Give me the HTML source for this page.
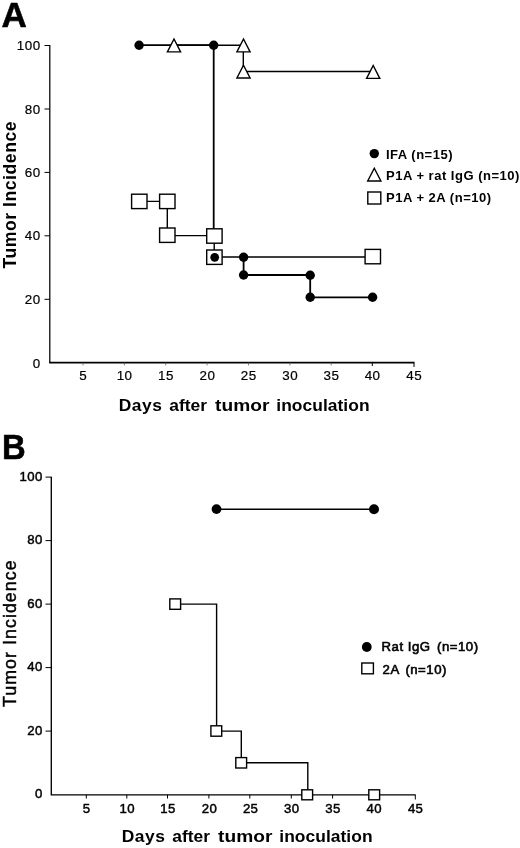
<!DOCTYPE html>
<html>
<head>
<meta charset="utf-8">
<title>Tumor Incidence</title>
<style>
html,body{margin:0;padding:0;background:#fff;}
body{width:520px;height:848px;overflow:hidden;}
svg{display:block;}
text{font-family:"Liberation Sans",Arial,Helvetica,sans-serif;fill:#000;}
.panel{font-size:35px;font-weight:bold;stroke:#000;stroke-width:0.6px;}
.tickA{font-size:13.4px;letter-spacing:0.5px;stroke:#000;stroke-width:0.2px;}
.tickB{font-size:13.2px;letter-spacing:0.35px;stroke:#000;stroke-width:0.45px;}
.ytitle{font-size:17.6px;font-weight:bold;letter-spacing:0.55px;}
.xtitle{font-size:17.4px;font-weight:bold;letter-spacing:0.53px;}
.leg{font-size:13px;font-weight:bold;letter-spacing:0.5px;}
.legB{font-size:13.2px;letter-spacing:0.5px;stroke:#000;stroke-width:0.6px;}
.ln{stroke:#000;fill:none;stroke-width:1.4;}
.lnk{stroke:#000;fill:none;stroke-width:1.8;}
.ax{stroke:#000;fill:none;stroke-width:1.35;}
.tk{stroke:#000;fill:none;stroke-width:1;}
.mk{stroke:#000;fill:#fff;stroke-width:1.4;}
.dot{fill:#000;stroke:none;}
</style>
</head>
<body>
<svg width="520" height="848" viewBox="0 0 520 848">
<rect x="0" y="0" width="520" height="848" fill="#fff"/>

<!-- ================= Panel A ================= -->
<text class="panel" x="1.6" y="26.8">A</text>

<!-- axes -->
<path class="ax" style="stroke-width:1.25" d="M49.8 45 V363"/>
<path class="ax" style="stroke-width:1.7" d="M49.2 362.7 H414.5"/>
<path class="tk" d="M44.5 45.5 H49.8 M44.5 109 H49.8 M44.5 172.4 H49.8 M44.5 235.8 H49.8 M44.5 299.3 H49.8"/>
<path class="tk" style="stroke:#666;stroke-width:0.9" d="M83 362.7 V365.3 M124.4 362.7 V365.3 M165.7 362.7 V365.3 M207.1 362.7 V365.3 M248.5 362.7 V365.3 M289.9 362.7 V365.3 M331.2 362.7 V365.3"/>
<path class="tk" d="M372.3 362.7 V366 M414 362.7 V367"/>

<!-- y tick labels -->
<g class="tickA" text-anchor="end" transform="translate(0.6 0)">
<text x="40" y="50">100</text>
<text x="40" y="113.5">80</text>
<text x="40" y="177">60</text>
<text x="40" y="239.7">40</text>
<text x="40" y="304">20</text>
<text x="40" y="368">0</text>
</g>
<!-- x tick labels -->
<g class="tickA" text-anchor="middle">
<text x="83.3" y="380">5</text>
<text x="124.6" y="380">10</text>
<text x="166" y="380">15</text>
<text x="207.4" y="380">20</text>
<text x="248.8" y="380">25</text>
<text x="290.2" y="380">30</text>
<text x="331.5" y="380">35</text>
<text x="372.6" y="380">40</text>
<text x="414.3" y="380">45</text>
</g>

<text class="ytitle" transform="translate(15.5 268.6) rotate(-90)">Tumor Incidence</text>
<text class="xtitle" y="410.8"><tspan x="118.7" style="letter-spacing:0.55px">Days</tspan> <tspan x="169.3" style="letter-spacing:0px">after</tspan> <tspan x="215.1" style="letter-spacing:0px" textLength="54.3" lengthAdjust="spacingAndGlyphs">tumor</tspan> <tspan x="276.3" style="letter-spacing:0.05px">inoculation</tspan></text>

<!-- IFA series -->
<path class="lnk" d="M139.1 45.2 H213.7 V230 M243.6 257.2 V275 H310.2 V297.3 H372.6"/>
<!-- P1A + rat IgG series -->
<path class="ln" d="M174 45.2 H243.3 V71.5 H373"/>
<!-- P1A + 2A series -->
<path class="ln" d="M139.2 201.4 H167.3 V235.6 H214.2 V257 H372.9"/>

<!-- triangles -->
<path class="mk" d="M174 39 L180.6 51.9 H167.4 Z"/>
<path class="mk" d="M243.5 39 L250.1 51.9 H236.9 Z"/>
<path class="mk" d="M243.5 65.2 L250.1 78 H236.9 Z"/>
<path class="mk" d="M373.2 65.5 L379.8 78.4 H366.6 Z"/>

<!-- squares -->
<rect class="mk" x="131.6" y="194.2" width="15.4" height="14.4"/>
<rect class="mk" x="159.6" y="194.2" width="15.4" height="14.4"/>
<rect class="mk" x="159.6" y="228" width="15.4" height="14.4"/>
<rect class="mk" x="206.7" y="228.8" width="15.4" height="14.4"/>
<rect class="mk" x="206.7" y="250" width="15.4" height="14.4"/>
<rect class="mk" x="365.1" y="249.4" width="15.4" height="14.4"/>

<!-- dots -->
<circle class="dot" cx="139.1" cy="45.2" r="4.7"/>
<circle class="dot" cx="213.7" cy="45.2" r="4.7"/>
<circle class="dot" cx="214.7" cy="257.3" r="4.4"/>
<circle class="dot" cx="243.6" cy="257.2" r="4.7"/>
<circle class="dot" cx="243.6" cy="275" r="4.7"/>
<circle class="dot" cx="310.2" cy="275.2" r="4.7"/>
<circle class="dot" cx="310.2" cy="297.3" r="4.7"/>
<circle class="dot" cx="372.6" cy="297.3" r="4.7"/>

<!-- legend A -->
<circle class="dot" cx="374.3" cy="153.6" r="4.7"/>
<path class="mk" d="M374.3 168.2 L380.9 181 H367.7 Z"/>
<rect class="mk" x="367.8" y="192" width="13" height="12"/>
<g class="leg">
<text x="386" y="158.6">IFA (n=15)</text>
<text x="386" y="179.8">P1A + rat IgG (n=10)</text>
<text x="386" y="202.4">P1A + 2A (n=10)</text>
</g>

<!-- ================= Panel B ================= -->
<text class="panel" transform="translate(1.9 459.3) scale(0.937 1)">B</text>

<path class="ax" d="M51.3 476.8 V794.8 H415.6"/>
<path class="tk" d="M45.5 477.1 H51.3 M45.5 540.6 H51.3 M45.5 604.1 H51.3 M45.5 667.6 H51.3 M45.5 731.1 H51.3"/>
<path class="tk" d="M86.3 794.8 V798.5 M126.8 794.8 V798.5 M167.5 794.8 V798.5 M208.9 794.8 V798.5 M249.8 794.8 V798.5 M291.3 794.8 V798.5 M332.6 794.8 V798.5 M374 794.8 V798.5 M415.3 794.8 V799.5"/>

<g class="tickB" text-anchor="end">
<text x="42.6" y="480.6">100</text>
<text x="42.6" y="544.1">80</text>
<text x="42.6" y="607.7">60</text>
<text x="42.6" y="671.3">40</text>
<text x="42.6" y="734.8">20</text>
<text x="42.6" y="798.2">0</text>
</g>
<g class="tickB" text-anchor="middle">
<text x="86.6" y="812.8">5</text>
<text x="127.2" y="812.8">10</text>
<text x="168" y="812.8">15</text>
<text x="209.4" y="812.8">20</text>
<text x="250.6" y="812.8">25</text>
<text x="291.7" y="812.8">30</text>
<text x="333" y="812.8">35</text>
<text x="374.3" y="812.8">40</text>
<text x="415.6" y="812.8">45</text>
</g>

<text class="ytitle" style="font-weight:normal;font-size:17.8px;letter-spacing:1.06px;stroke:#000;stroke-width:0.45px" transform="translate(15.5 707) rotate(-90)">Tumor Incidence</text>
<text class="xtitle" y="842.2"><tspan x="121.7" style="letter-spacing:0.55px">Days</tspan> <tspan x="172.3" style="letter-spacing:0px">after</tspan> <tspan x="218.1" style="letter-spacing:0px" textLength="54.3" lengthAdjust="spacingAndGlyphs">tumor</tspan> <tspan x="279.3" style="letter-spacing:0.05px">inoculation</tspan></text>

<!-- Rat IgG series -->
<path class="ln" style="stroke-width:1.6" d="M216.5 509.2 H374"/>
<circle class="dot" cx="216.5" cy="509.1" r="4.9"/>
<circle class="dot" cx="374" cy="509.2" r="5"/>

<!-- 2A series -->
<path class="ln" d="M175.2 604.1 H216.6 V731.1 H241.3 V762.8 H307.8 V794.8"/>
<rect class="mk" x="169.8" y="598.9" width="10.8" height="10.4"/>
<rect class="mk" x="210.9" y="725.8" width="10.8" height="10.4"/>
<rect class="mk" x="235.8" y="757.6" width="10.8" height="10.4"/>
<rect class="mk" x="301.8" y="789.8" width="10.8" height="10"/>
<rect class="mk" x="368.8" y="789.8" width="10.8" height="10"/>

<!-- legend B -->
<circle class="dot" cx="366.8" cy="647" r="4.9"/>
<rect class="mk" x="361.8" y="663" width="11.6" height="10.8"/>
<g class="legB">
<text x="381.6" y="651.2">Rat IgG <tspan dx="2.4">(n=10)</tspan></text>
<text x="382.6" y="674.3">2A <tspan dx="2.2">(n=10)</tspan></text>
</g>
</svg>
</body>
</html>
